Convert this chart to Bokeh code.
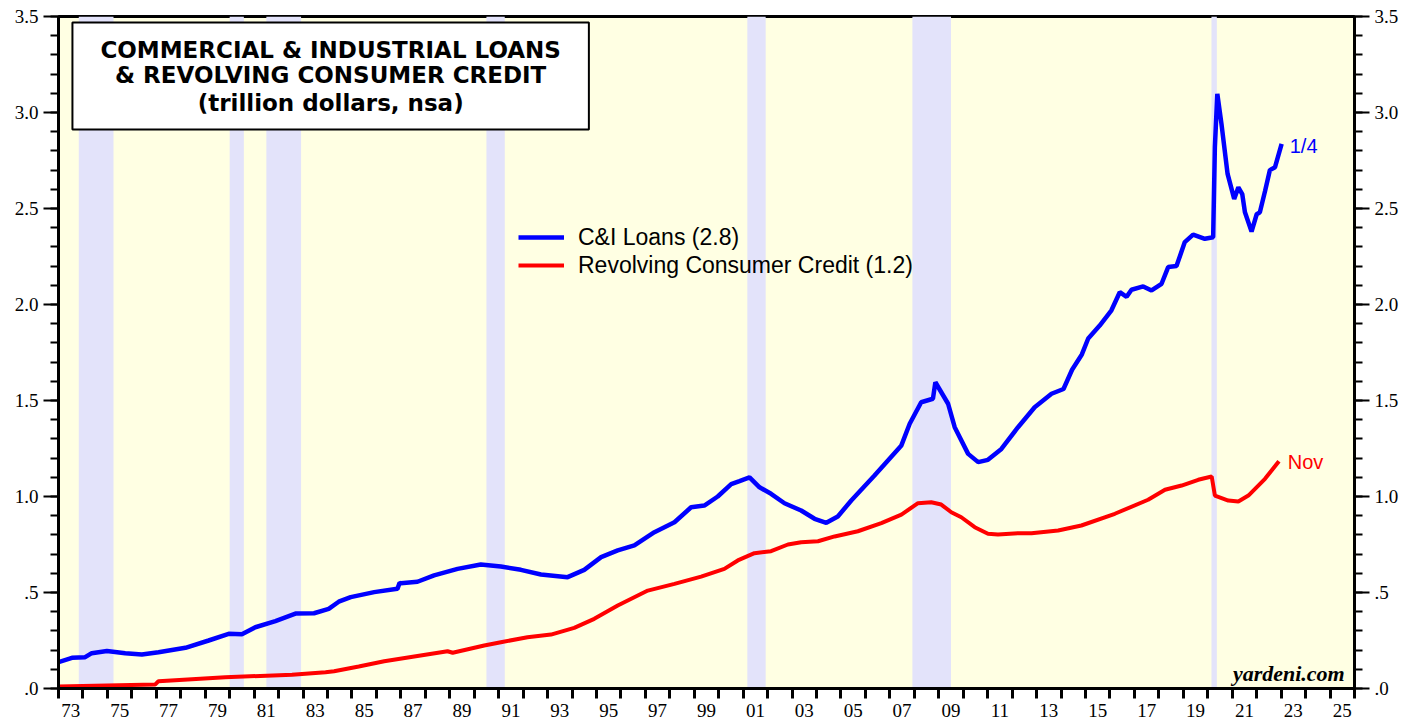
from bokeh.plotting import figure
from bokeh.models import Range1d, LinearAxis, FixedTicker, Label, BoxAnnotation
from bokeh.embed import file_html
from bokeh.resources import INLINE

# ---------------- data ----------------
ci_years = [1973.0, 1973.55, 1974.09, 1974.36, 1974.98, 1975.73, 1976.41, 1977.09, 1978.19, 1979.14,
            1979.96, 1980.5, 1981.05, 1981.87, 1982.69, 1983.45, 1984.05, 1984.46, 1984.95, 1985.91,
            1986.86, 1986.95, 1987.0, 1987.68, 1988.36, 1989.32, 1990.27, 1991.09, 1991.91, 1992.73,
            1993.82, 1994.5, 1995.19, 1995.87, 1996.55, 1997.37, 1998.19, 1998.87, 1999.41, 1999.96,
            2000.51, 2000.85, 2001.26, 2001.67, 2002.14, 2002.69, 2003.37, 2003.92, 2004.4, 2004.87,
            2005.42, 2006.37, 2007.47, 2007.81, 2008.28, 2008.76, 2008.86, 2009.38, 2009.65, 2010.2,
            2010.61, 2011.01, 2011.56, 2012.24, 2012.92, 2013.61, 2014.1, 2014.45, 2014.85, 2015.11,
            2015.58, 2016.06, 2016.4, 2016.68, 2016.88, 2017.36, 2017.7, 2018.11, 2018.38, 2018.72,
            2019.06, 2019.4, 2019.88, 2020.22, 2020.29, 2020.39, 2020.56, 2020.81, 2021.08, 2021.25,
            2021.41, 2021.52, 2021.79, 2022.0, 2022.13, 2022.34, 2022.54, 2022.75, 2023.02]
ci_loans = [0.137, 0.16, 0.163, 0.184, 0.195, 0.184, 0.177, 0.189, 0.212, 0.25,
            0.285, 0.283, 0.319, 0.351, 0.39, 0.392, 0.415, 0.452, 0.476, 0.502,
            0.519, 0.55, 0.548, 0.556, 0.589, 0.623, 0.646, 0.635, 0.618, 0.594,
            0.58, 0.618, 0.684, 0.719, 0.745, 0.814, 0.866, 0.944, 0.953, 1.0,
            1.064, 1.08, 1.10, 1.048, 1.014, 0.965, 0.927, 0.884, 0.863, 0.896,
            0.979, 1.109, 1.266, 1.379, 1.491, 1.509, 1.595, 1.483, 1.361, 1.222,
            1.179, 1.191, 1.248, 1.361, 1.465, 1.535, 1.56, 1.66, 1.74, 1.823,
            1.89, 1.97, 2.064, 2.04, 2.077, 2.094, 2.073, 2.108, 2.195, 2.20,
            2.325, 2.364, 2.342, 2.35, 2.82, 3.097, 2.94, 2.68, 2.55, 2.61,
            2.575, 2.48, 2.38, 2.47, 2.48, 2.59, 2.70, 2.715, 2.836]

rcc_years = [1973.0, 1976.96, 1977.09, 1979.82, 1982.55, 1983.92, 1984.27, 1985.28, 1986.32, 1988.91,
             1989.12, 1990.41, 1991.09, 1992.18, 1993.14, 1994.09, 1994.91, 1995.87, 1997.1, 1998.19,
             1999.28, 2000.23, 2000.78, 2001.46, 2002.14, 2002.83, 2003.37, 2004.06, 2004.74, 2005.69,
             2006.65, 2007.47, 2008.15, 2008.69, 2009.1, 2009.51, 2009.92, 2010.47, 2011.01, 2011.42,
             2012.24, 2012.79, 2013.88, 2014.83, 2016.2, 2017.56, 2018.25, 2018.93, 2019.61, 2020.16,
             2020.29, 2020.84, 2021.25, 2021.66, 2022.34, 2022.91]
rcc_credit = [0.01, 0.021, 0.038, 0.059, 0.071, 0.085, 0.09, 0.115, 0.142, 0.194,
              0.186, 0.224, 0.241, 0.267, 0.281, 0.316, 0.363, 0.432, 0.51, 0.545,
              0.583, 0.623, 0.667, 0.705, 0.715, 0.75, 0.762, 0.767, 0.792, 0.819,
              0.861, 0.906, 0.965, 0.970, 0.958, 0.918, 0.892, 0.84, 0.806, 0.802,
              0.809, 0.809, 0.823, 0.849, 0.91, 0.983, 1.035, 1.057, 1.087, 1.104,
              1.005, 0.979, 0.974, 1.005, 1.092, 1.184]

rec_start = [1973.83, 1980.0, 1981.5, 1990.5, 2001.17, 2007.92, 2020.15]
rec_end = [1975.25, 1980.58, 1982.92, 1991.25, 2001.92, 2009.5, 2020.37]

x_label_years = list(range(1973, 2026, 2))
x_tick_labels = ["%02d" % (y % 100) for y in x_label_years]
y_ticks = [0.0, 0.5, 1.0, 1.5, 2.0, 2.5, 3.0, 3.5]
y_tick_labels = [".0", ".5", "1.0", "1.5", "2.0", "2.5", "3.0", "3.5"]

title_lines = ["COMMERCIAL & INDUSTRIAL LOANS", "& REVOLVING CONSUMER CREDIT", "(trillion dollars, nsa)"]

# ---------------- figure ----------------
p = figure(width=1411, height=719, output_backend="svg", toolbar_location=None,
           x_range=Range1d(1973, 2026), y_range=Range1d(0, 3.5),
           min_border_left=58, min_border_right=57, min_border_top=16, min_border_bottom=31,
           background_fill_color="#FFFFE3", border_fill_color="white")
p.xgrid.visible = False
p.ygrid.visible = False
p.outline_line_color = "black"
p.outline_line_width = 3
p.outline_line_alpha = 1

# recession bands
p.quad(left=rec_start, right=rec_end, bottom=0, top=3.5, fill_color="#E3E3FA", line_color=None)

# lines
p.line(rcc_years, rcc_credit, line_color="#FF0000", line_width=4, legend_label="Revolving Consumer Credit (1.2)")
p.line(ci_years, ci_loans, line_color="#0000FF", line_width=4.5, legend_label="C&I Loans (2.8)")

# x axis
xa = p.xaxis[0]
xa.ticker = FixedTicker(ticks=[y + 0.5 for y in x_label_years], minor_ticks=list(range(1973, 2027)))
xa.major_label_overrides = {y + 0.5: t for y, t in zip(x_label_years, x_tick_labels)}
xa.major_tick_out = 0
xa.major_tick_in = 0
xa.minor_tick_out = 10
xa.minor_tick_in = 0
xa.minor_tick_line_width = 3
xa.minor_tick_line_color = "black"
xa.major_label_standoff = 5
xa.major_label_text_font = "Liberation Serif"
xa.major_label_text_font_size = "19px"
xa.major_label_text_color = "black"
xa.axis_line_width = 3
xa.axis_line_color = "black"

# y axes
def style_y(ax):
    ax.ticker = FixedTicker(ticks=y_ticks, minor_ticks=[i / 10 for i in range(0, 36)])
    ax.major_label_overrides = {v: t for v, t in zip(y_ticks, y_tick_labels)}
    ax.major_tick_out = 15
    ax.major_tick_in = 0
    ax.minor_tick_out = 8
    ax.minor_tick_in = 0
    ax.major_tick_line_width = 2
    ax.minor_tick_line_width = 2
    ax.major_tick_line_color = "black"
    ax.minor_tick_line_color = "black"
    ax.major_label_standoff = 5
    ax.major_label_text_font = "Liberation Serif"
    ax.major_label_text_font_size = "19px"
    ax.major_label_text_color = "black"
    ax.axis_line_width = 3
    ax.axis_line_color = "black"

style_y(p.yaxis[0])
yr = LinearAxis()
style_y(yr)
p.add_layout(yr, "right")

# title box
p.add_layout(BoxAnnotation(left=1973.57, right=1994.69, bottom=2.911, top=3.469,
                           fill_color="white", fill_alpha=1, line_color="black", line_width=2,
                           line_alpha=1))
for txt, yv in zip(title_lines, [3.323, 3.193, 3.052]):
    p.add_layout(Label(x=1984.13, y=yv, text=txt, text_align="center", text_baseline="middle",
                       text_font="DejaVu Sans", text_font_style="bold", text_font_size="23px",
                       text_color="black"))

# end labels
p.add_layout(Label(x=2023.35, y=2.823, text="1/4", text_align="left", text_baseline="middle",
                   text_font="Liberation Sans", text_font_size="20px", text_color="#0000FF"))
p.add_layout(Label(x=2023.27, y=1.182, text="Nov", text_align="left", text_baseline="middle",
                   text_font="Liberation Sans", text_font_size="20px", text_color="#FF0000"))
p.add_layout(Label(x=2025.6, y=0.078, text="yardeni.com", text_align="right", text_baseline="middle",
                   text_font="Liberation Serif", text_font_style="bold italic", text_font_size="22px",
                   text_color="black"))

# legend
lg = p.legend[0]
lg.items = list(reversed(lg.items))
lg.location = (460, 409)
lg.background_fill_alpha = 0
lg.border_line_alpha = 0
lg.padding = 0
lg.margin = 0
lg.spacing = 0
lg.label_height = 28
lg.glyph_height = 28
lg.glyph_width = 46
lg.label_standoff = 14
lg.label_text_font = "Liberation Sans"
lg.label_text_font_size = "23px"
lg.label_text_color = "black"

open("out.html", "w").write(file_html(p, INLINE))
